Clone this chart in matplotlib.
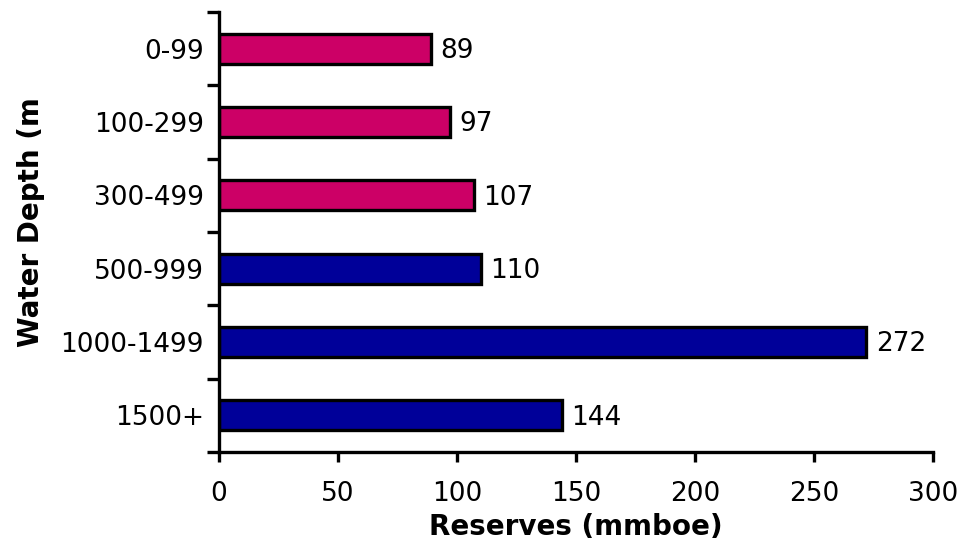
import matplotlib
matplotlib.use("Agg")
import matplotlib.pyplot as plt

# water depth bins and reserves (mmboe)
depths = ["0-99", "100-299", "300-499", "500-999", "1000-1499", "1500+"]
reserves = [89, 97, 107, 110, 272, 144]
colors = ["#CC0066", "#CC0066", "#CC0066", "#000099", "#000099", "#000099"]

fig = plt.figure(figsize=(9.63, 5.45), dpi=100)
ax = fig.add_axes([0.2274, 0.1706, 0.7414, 0.8074])

ypos = list(range(len(depths)))
ax.barh(ypos, reserves, height=0.41, color=colors, edgecolor="black", linewidth=2.4)

for y, v in zip(ypos, reserves):
    ax.text(v + 4, y + 0.03, str(v), va="center", ha="left", fontsize=19)

ax.set_xlim(0, 300)
ax.set_ylim(len(depths) - 0.5, -0.5)
ax.set_xticks([0, 50, 100, 150, 200, 250, 300])
# major ticks sit between the bars, labels on minor ticks at bar centres
ax.set_yticks([i - 0.5 for i in range(len(depths) + 1)], minor=False)
ax.set_yticklabels([])
ax.set_yticks(ypos, minor=True)
ax.set_yticklabels(depths, minor=True)
ax.tick_params(axis="y", which="minor", length=0, pad=11, labelsize=19)
ax.tick_params(axis="y", which="major", length=9, width=2.4)
ax.tick_params(axis="x", length=7, width=2.4, pad=14, labelsize=19)

for side in ["top", "right"]:
    ax.spines[side].set_visible(False)
for side in ["left", "bottom"]:
    ax.spines[side].set_linewidth(2.4)

ax.set_xlabel("Reserves (mmboe)", fontsize=20, fontweight="bold", labelpad=4)
fig.text(0.032, 0.593, "Water Depth (m", rotation=90, fontsize=20,
         fontweight="bold", ha="center", va="center")

fig.savefig("out.png", dpi=100)
